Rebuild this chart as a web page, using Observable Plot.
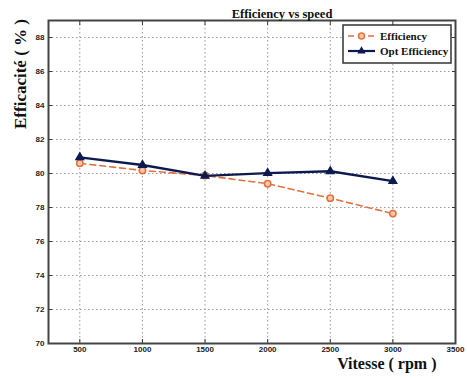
<!DOCTYPE html>
<html><head><meta charset="utf-8">
<script src="https://cdn.jsdelivr.net/npm/d3@7"></script>
<script src="https://cdn.jsdelivr.net/npm/@observablehq/plot@0.6"></script>
<style>
body{margin:0;background:#fff;}
svg{overflow:visible}
</style></head>
<body><div id="chart"></div>
<script>
const speeds = [500, 1000, 1500, 2000, 2500, 3000];
const efficiency = [80.6, 80.18, 79.88, 79.4, 78.55, 77.64];
const optEfficiency = [80.95, 80.5, 79.86, 80.02, 80.13, 79.55];
const xTicks = [500, 1000, 1500, 2000, 2500, 3000, 3500];
const yTicks = [70, 72, 74, 76, 78, 80, 82, 84, 86, 88];
const seriesNames = ["Efficiency", "Opt Efficiency"];
const colors = ["#e2703f", "#0d1a4f"];

const eff = speeds.map((s, i) => ({speed: s, value: efficiency[i]}));
const opt = speeds.map((s, i) => ({speed: s, value: optEfficiency[i]}));

const serif = "'Liberation Serif', 'Times New Roman', serif";
const plot = Plot.plot({
  width: 467, height: 379,
  marginLeft: 48, marginRight: 12, marginTop: 20, marginBottom: 36,
  style: {fontFamily: "'Liberation Sans', Arial, sans-serif", fontSize: "8px", color: "#222"},
  x: {domain: [250, 3500], ticks: xTicks, label: null},
  y: {domain: [70, 89], ticks: yTicks, label: null},
  marks: [
    Plot.ruleX(xTicks.slice(0, -1), {stroke: "#999", strokeDasharray: "1.5,2.5", strokeWidth: 1}),
    Plot.ruleY(yTicks.slice(1), {stroke: "#999", strokeDasharray: "1.5,2.5", strokeWidth: 1}),
    Plot.axisX({ticks: xTicks, tickSize: -4, tickPadding: 7, tickFormat: d => String(d), fontWeight: "bold", stroke: "#333"}),
    Plot.axisX({anchor: "top", ticks: xTicks, tickSize: -4, tickFormat: () => "", stroke: "#333"}),
    Plot.axisY({ticks: yTicks, tickSize: -4, tickPadding: 8, tickFormat: d => String(d), fontWeight: "bold", stroke: "#333"}),
    Plot.axisY({anchor: "right", ticks: yTicks, tickSize: -4, tickFormat: () => "", stroke: "#333"}),
    Plot.frame({stroke: "#444", strokeWidth: 2}),
    Plot.line(eff, {x: "speed", y: "value", stroke: colors[0], strokeWidth: 1.6, strokeDasharray: "6,4"}),
    Plot.dot(eff, {x: "speed", y: "value", stroke: colors[0], fill: "#f6c9a8", r: 3.2, strokeWidth: 1.5}),
    Plot.line(opt, {x: "speed", y: "value", stroke: colors[1], strokeWidth: 2.4}),
    Plot.dot(opt, {x: "speed", y: "value", symbol: "triangle", fill: colors[1], stroke: colors[1], r: 2.8}),
    Plot.text(["Efficiency vs speed"], {frameAnchor: "top", dy: -11, dx: 30, fontFamily: serif, fontWeight: "bold", fontSize: 12.5, fill: "#111"}),
    Plot.text(["Vitesse ( rpm )"], {frameAnchor: "bottom-right", dy: 25, dx: -19, textAnchor: "end", fontFamily: serif, fontWeight: "bold", fontSize: 16, fill: "#111"}),
    Plot.text(["Efficacité ( % )"], {frameAnchor: "left", dx: -28, dy: -53, rotate: -90, fontFamily: serif, fontWeight: "bold", fontSize: 17, fill: "#111"})
  ]
});
document.getElementById("chart").appendChild(plot);

// legend (matlab-style box inside the plot)
const svg = d3.select(plot);
const lg = svg.append("g").attr("transform", "translate(343,25)");
lg.append("rect").attr("width", 108).attr("height", 38).attr("fill", "#fff").attr("stroke", "#333").attr("stroke-width", 1.5);
seriesNames.forEach((name, i) => {
  const y = 11 + i * 15;
  const line = lg.append("line").attr("x1", 5).attr("x2", 32).attr("y1", y).attr("y2", y)
    .attr("stroke", colors[i]).attr("stroke-width", i ? 2.2 : 1.6);
  if (i === 0) {
    line.attr("stroke-dasharray", "6,4");
    lg.append("circle").attr("cx", 18.5).attr("cy", y).attr("r", 3).attr("fill", "#f6c9a8").attr("stroke", colors[0]).attr("stroke-width", 1.5);
  } else {
    lg.append("path").attr("d", d3.symbol(d3.symbolTriangle, 30)()).attr("transform", `translate(18.5,${y})`).attr("fill", colors[1]);
  }
  lg.append("text").attr("x", 37).attr("y", y + 4).attr("text-anchor", "start").text(name)
    .style("font-family", serif).style("font-weight", "bold").style("font-size", "11px").attr("fill", "#111");
});
</script></body></html>
